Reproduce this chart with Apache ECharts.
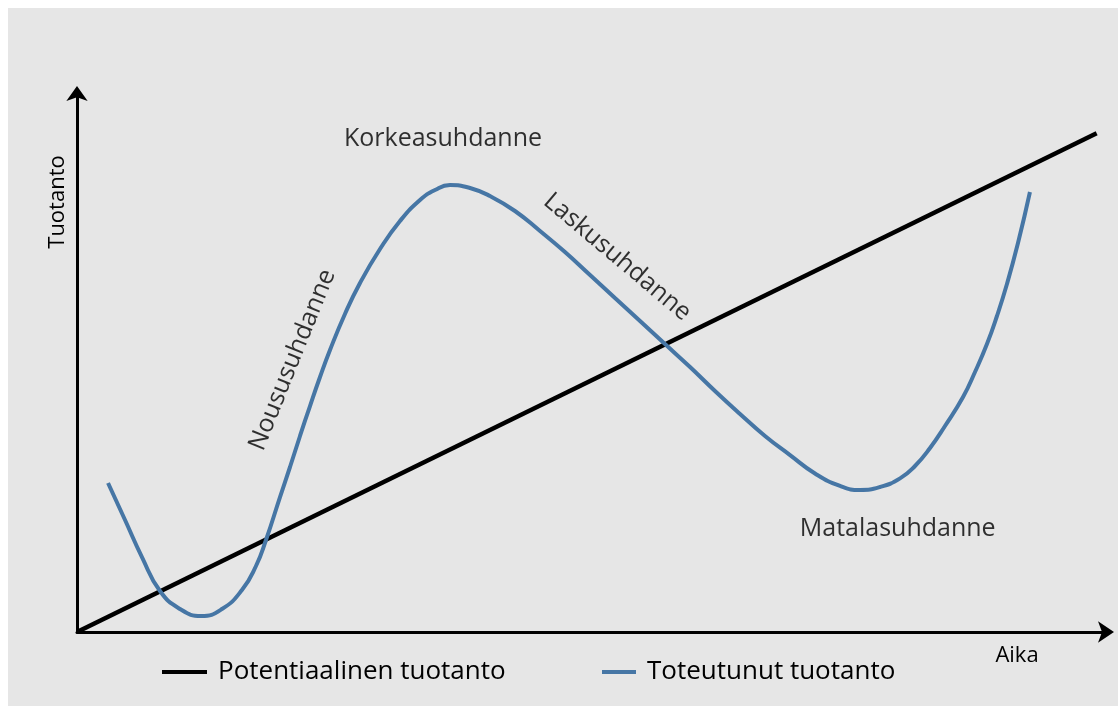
<!DOCTYPE html>
<html>
<head>
<meta charset="utf-8">
<script src="https://cdn.jsdelivr.net/npm/echarts@6/dist/echarts.min.js"></script>
<style>
html,body{margin:0;padding:0;background:#ffffff;}
#wrap{position:relative;width:1118px;height:706px;overflow:hidden;background:#ffffff;}
#chart{position:absolute;left:8px;top:8px;width:1110px;height:698px;background:#e6e6e6;}
</style>
</head>
<body>
<div id="wrap"><div id="chart"></div></div>
<script>
// ---- data ----
const seriesNames = ['Potentiaalinen tuotanto', 'Toteutunut tuotanto'];
const axisNames = ['Aika', 'Tuotanto'];
const potentialX = [0, 98.9];
const potentialY = [0, 92.2];
const actualX = [3.01, 4.66, 6.30, 8.05, 9.99, 12.03, 14.06, 16.00, 17.36, 18.33, 19.69, 20.66, 21.63, 22.60, 23.57, 24.54, 25.99, 27.45, 29.39, 31.33, 33.27, 34.72, 36.18, 38.12, 40.06, 42.48, 44.91, 47.33, 49.76, 52.18, 54.61, 57.03, 59.46, 61.88, 64.31, 66.73, 69.16, 71.58, 74.01, 75.95, 77.89, 79.83, 81.28, 82.74, 84.19, 85.94, 87.10, 88.26, 89.23, 90.20, 91.27, 92.43];
const actualY = [27.54, 20.70, 13.86, 7.58, 4.25, 2.96, 4.25, 7.76, 12.20, 17.01, 24.95, 30.50, 36.23, 41.77, 47.13, 52.13, 58.78, 64.51, 70.79, 75.97, 79.85, 81.70, 82.62, 82.07, 80.59, 77.82, 74.12, 70.24, 65.99, 61.74, 57.49, 53.23, 48.98, 44.55, 40.30, 36.23, 32.70, 29.30, 27.00, 26.25, 26.80, 28.40, 30.68, 34.01, 38.08, 43.44, 48.06, 53.23, 58.41, 64.33, 71.90, 81.33];
const phaseNames = ['Korkeasuhdanne', 'Noususuhdanne', 'Laskusuhdanne', 'Matalasuhdanne'];
const phaseX = [35.5, 20.9, 52.4, 79.6];
const phaseY = [91.1, 50.3, 69.3, 19.0];
const phaseRotate = [0, 68, -40, 0];

// ---- build ----
const FONT = '"Open Sans", "Noto Sans", sans-serif';
const BLUE = '#4676a5';
const zip = (a, b) => a.map((v, i) => [v, b[i]]);

const chart = echarts.init(document.getElementById('chart'), null, {renderer: 'canvas'});
chart.setOption({
  animation: false,
  backgroundColor: '#e6e6e6',
  grid: {left: 69, right: 10, top: 83, bottom: 74, containLabel: false},
  xAxis: {
    type: 'value', min: 0, max: 100,
    name: axisNames[0], nameLocation: 'end', nameGap: -91,
    nameTextStyle: {fontFamily: FONT, fontSize: 22, color: '#000', align: 'center', verticalAlign: 'top', padding: [13, 0, 0, 0]},
    axisLine: {show: true, symbol: ['none', 'arrow'], symbolSize: [16, 16], symbolOffset: [0, 6], lineStyle: {color: '#000', width: 3}},
    axisTick: {show: false}, axisLabel: {show: false}, splitLine: {show: false}
  },
  yAxis: {
    type: 'value', min: 0, max: 100,
    name: axisNames[1], nameLocation: 'end', nameGap: -111, nameRotate: 90,
    nameTextStyle: {fontFamily: FONT, fontSize: 22, color: '#000', align: 'center', verticalAlign: 'bottom', padding: [0, 0, 8, 0]},
    axisLine: {show: true, symbol: ['none', 'arrow'], symbolSize: [16, 15], symbolOffset: [0, 5], lineStyle: {color: '#000', width: 3}},
    axisTick: {show: false}, axisLabel: {show: false}, splitLine: {show: false}
  },
  legend: [
    {data: [seriesNames[0]], left: 149, top: 646, icon: 'rect', itemWidth: 45, itemHeight: 4,
     selectedMode: false, textStyle: {fontFamily: FONT, fontSize: 26, color: '#000', padding: [0, 0, 0, 6]}},
    {data: [seriesNames[1]], left: 589, top: 646, icon: 'rect', itemWidth: 34, itemHeight: 4,
     selectedMode: false, textStyle: {fontFamily: FONT, fontSize: 26, color: '#000', padding: [0, 0, 0, 6]}}
  ],
  series: [
    {
      name: seriesNames[0], type: 'line', data: zip(potentialX, potentialY),
      showSymbol: false, symbol: 'none', silent: true,
      lineStyle: {color: '#000', width: 4.5}, itemStyle: {color: '#000'}
    },
    {
      name: seriesNames[1], type: 'line', data: zip(actualX, actualY),
      showSymbol: false, symbol: 'none', silent: true, smooth: 0.5,
      lineStyle: {color: BLUE, width: 4}, itemStyle: {color: BLUE}
    },
    {
      name: 'phases', type: 'scatter', symbolSize: 0, silent: true,
      data: phaseNames.map((n, i) => ({
        name: n, value: [phaseX[i], phaseY[i]],
        label: {rotate: phaseRotate[i]}
      })),
      label: {
        show: true, position: 'inside', formatter: '{b}',
        fontFamily: FONT, fontSize: 25, color: '#000', align: 'center', verticalAlign: 'middle'
      }
    }
  ]
});
</script>
</body>
</html>
